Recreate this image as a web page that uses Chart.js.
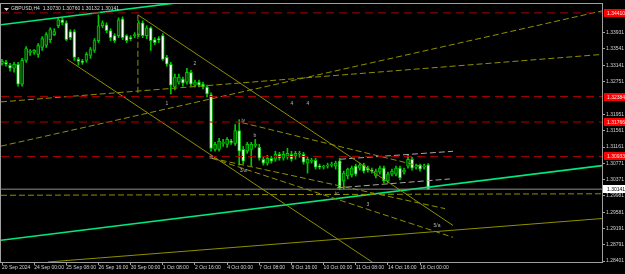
<!DOCTYPE html>
<html>
<head>
<meta charset="utf-8">
<script src="https://cdn.jsdelivr.net/npm/chart.js@4.4.1/dist/chart.umd.min.js"></script>
<style>
  html, body { margin: 0; padding: 0; background: #000; overflow: hidden; }
  canvas { display: block; }
</style>
</head>
<body>
<canvas id="chart" width="625" height="274"></canvas>
<script>
// GBPUSD H4, one bar every 4 hours starting 20 Sep 2024 16:00
var opens = [1.33189,1.33213,1.33141,1.33069,1.33165,1.32686,1.33260,1.33452,1.33452,1.33404,
  1.33572,1.33620,1.33763,1.33883,1.34098,1.34242,1.34170,1.33955,1.33955,1.33284,
  1.33237,1.33260,1.33380,1.33500,1.33739,1.34098,1.34122,1.33979,1.33859,1.33859,
  1.34266,1.33859,1.33811,1.33859,1.33883,1.34170,1.33859,1.34050,1.33763,1.33787,
  1.33859,1.33332,1.33165,1.32614,1.32734,1.32806,1.32734,1.32973,1.32662,1.32734,
  1.32686,1.32614,1.32423,1.31106,1.31106,1.31249,1.31226,1.31297,1.31249,1.31561,
  1.31106,1.31058,1.31106,1.31202,1.31154,1.30866,1.30771,1.30890,1.30866,1.30986,
  1.30890,1.30938,1.30986,1.30938,1.30986,1.30986,1.30771,1.30818,1.30842,1.30699,
  1.30675,1.30699,1.30723,1.30699,1.30818,1.30340,1.30459,1.30483,1.30699,1.30651,
  1.30723,1.30651,1.30603,1.30459,1.30555,1.30651,1.30340,1.30507,1.30507,1.30651,
  1.30555,1.30699,1.30866,1.30675,1.30723,1.30675,1.30730];
var highs = [1.33284,1.33260,1.33189,1.33213,1.33213,1.33308,1.33596,1.33524,1.33524,1.33667,
  1.33835,1.33931,1.34050,1.34027,1.34290,1.34290,1.34218,1.34003,1.34003,1.33332,
  1.33284,1.33452,1.33572,1.33787,1.34362,1.34218,1.34170,1.34027,1.33907,1.34290,
  1.34314,1.33883,1.33859,1.33931,1.34218,1.34218,1.34098,1.34074,1.33811,1.33835,
  1.33907,1.33380,1.33213,1.32925,1.32925,1.32854,1.33069,1.33021,1.32782,1.32782,
  1.32734,1.32662,1.32471,1.31273,1.31369,1.31345,1.31393,1.31345,1.31704,1.31824,
  1.31178,1.31273,1.31273,1.31345,1.31226,1.30914,1.30962,1.30938,1.31058,1.31034,
  1.31058,1.31130,1.31058,1.31058,1.31058,1.31034,1.30914,1.30890,1.30890,1.30747,
  1.30723,1.30771,1.30795,1.30818,1.30890,1.30579,1.30651,1.30699,1.30747,1.30771,
  1.30771,1.30699,1.30651,1.30627,1.30699,1.30699,1.30555,1.30627,1.30699,1.30699,
  1.30651,1.30986,1.30914,1.30747,1.30747,1.30747,1.30760];
var lows = [1.33141,1.33117,1.32997,1.32973,1.32638,1.32638,1.33213,1.33380,1.33404,1.33332,
  1.33500,1.33572,1.33691,1.33859,1.34050,1.34122,1.33739,1.33763,1.33260,1.33141,
  1.33165,1.33213,1.33308,1.33452,1.33691,1.34050,1.33931,1.33739,1.33691,1.33811,
  1.33763,1.33691,1.33739,1.33811,1.33835,1.33811,1.33787,1.33500,1.33643,1.33691,
  1.33260,1.33117,1.32447,1.32542,1.32686,1.32638,1.32686,1.32638,1.32614,1.32614,
  1.32566,1.32375,1.31058,1.31058,1.31058,1.31178,1.31154,1.31226,1.31202,1.30723,
  1.30747,1.31010,1.30699,1.31154,1.30842,1.30723,1.30723,1.30771,1.30818,1.30842,
  1.30842,1.30866,1.30818,1.30866,1.30914,1.30747,1.30531,1.30771,1.30627,1.30627,
  1.30627,1.30651,1.30675,1.30627,1.30124,1.30148,1.30388,1.30435,1.30459,1.30603,
  1.30531,1.30555,1.30531,1.30412,1.30507,1.30292,1.30292,1.30459,1.30459,1.30364,
  1.30507,1.30651,1.30603,1.30627,1.30579,1.30627,1.30132];
var closes = [1.33237,1.33165,1.33069,1.33165,1.32686,1.33260,1.33548,1.33476,1.33500,1.33620,
  1.33787,1.33883,1.34003,1.33955,1.34242,1.34170,1.33763,1.33811,1.33332,1.33237,
  1.33213,1.33404,1.33524,1.33739,1.34098,1.34170,1.33979,1.33811,1.33739,1.34242,
  1.33811,1.33739,1.33787,1.33883,1.34170,1.33859,1.34050,1.33739,1.33691,1.33763,
  1.33284,1.33165,1.32662,1.32854,1.32854,1.32710,1.32973,1.32686,1.32734,1.32662,
  1.32614,1.32447,1.31130,1.31226,1.31297,1.31273,1.31345,1.31273,1.31561,1.31058,
  1.30818,1.31226,1.31226,1.31226,1.30890,1.30771,1.30890,1.30818,1.30986,1.30890,
  1.30986,1.31010,1.30866,1.31010,1.31010,1.30795,1.30866,1.30842,1.30675,1.30675,
  1.30699,1.30723,1.30747,1.30771,1.30172,1.30531,1.30627,1.30651,1.30507,1.30723,
  1.30579,1.30603,1.30579,1.30579,1.30651,1.30340,1.30507,1.30579,1.30651,1.30412,
  1.30603,1.30866,1.30651,1.30699,1.30627,1.30699,1.30141];

var timeBars = [0, 8, 16, 24, 32, 40, 48, 56, 64, 72, 80, 88, 96, 104];
var timeLabels = ["20 Sep 2024", "24 Sep 00:00", "25 Sep 08:00", "26 Sep 16:00", "30 Sep 00:00",
  "1 Oct 08:00", "2 Oct 16:00", "4 Oct 00:00", "7 Oct 08:00", "8 Oct 16:00", "10 Oct 00:00",
  "11 Oct 08:00", "14 Oct 16:00", "16 Oct 00:00"];
var priceTicks = [1.33931, 1.33541, 1.33141, 1.32751, 1.31951, 1.31561, 1.31161, 1.30771,
  1.30371, 1.29981, 1.29581, 1.29191, 1.28791, 1.28401];

// horizontal levels (red) and the bid
var levelPrices = [1.34410, 1.32384, 1.31766, 1.30933];
var bidPrice = 1.30141;

// drawn objects: [bar1, price1, bar2, price2]
var greenLines = [[-0.25, 1.28903, 149.25, 1.30711], [-0.25, 1.34122, 59.2, 1.34843]];
var oliveDashed = [
  [-0.25, 1.31183, 149.25, 1.34457],
  [-0.25, 1.32255, 149.25, 1.33404],
  [-0.25, 1.29993, 149.25, 1.30029],
  [33.8, 1.34362, 33.8, 1.32447],
  [59.7, 1.31752, 104.0, 1.30699],
  [52.2, 1.30890, 110.2, 1.29670],
  [52.2, 1.30890, 112.2, 1.28975]
];
var oliveSolid = [
  [33.8, 1.34362, 112.2, 1.29262],
  [16.2, 1.33284, 92.8, 1.28329],
  [11.4, 1.28377, 149.25, 1.29430]
];
var grayDashed = [[84.1, 1.30866, 112.2, 1.31058], [83.3, 1.30172, 111.4, 1.30388]];

// wave labels
var waveText = ["1", "2", "4", "4", "iv", "b", "iii", "3/a", "b", "ic", "3", "5/a"];
var waveBar = [41.0, 48.0, 72.1, 76.1, 60.0, 62.9, 52.0, 60.0, 84.1, 83.3, 91.0, 108.2];
var wavePrice = [1.32207, 1.33189, 1.32207, 1.32207, 1.31800, 1.31441, 1.30914, 1.30579,
  1.30795, 1.30029, 1.29765, 1.29262];

var X_MIN = -0.25, X_MAX = 149.25;
var FONT = "Liberation Sans";

function seg(p, color, dash, width) {
  return {
    type: "line",
    data: [{ x: p[0], y: p[1] }, { x: p[2], y: p[3] }],
    borderColor: color,
    borderDash: dash,
    borderWidth: width,
    pointRadius: 0,
    fill: false,
    order: 0,
  };
}

var datasets = [];
var idx = opens.map(function (_, i) { return i; });

// wicks
datasets.push({
  type: "bar",
  data: idx.map(function (i) { return { x: i, y: [lows[i], highs[i]] }; }),
  backgroundColor: "#00c800",
  borderWidth: 0,
  barThickness: 1,
  grouped: false,
  order: 5,
});
// bodies
datasets.push({
  type: "bar",
  data: idx.map(function (i) { return { x: i, y: [opens[i], closes[i]] }; }),
  backgroundColor: function (c) {
    var i = c.dataIndex;
    return closes[i] < opens[i] ? "#ffffff" : "#004400";
  },
  borderColor: "#00c800",
  borderWidth: 1,
  borderSkipped: false,
  barThickness: 3,
  grouped: false,
  order: 4,
});

levelPrices.forEach(function (p) {
  datasets.push(seg([X_MIN, p, X_MAX, p], "#a80000", [8, 5], 1));
});
datasets.push(seg([X_MIN, bidPrice, X_MAX, bidPrice], "#8c8c8c", [], 1));
oliveDashed.forEach(function (l) { datasets.push(seg(l, "#8f8f00", [6, 3], 1)); });
oliveSolid.forEach(function (l) { datasets.push(seg(l, "#8f8f00", [], 1)); });
grayDashed.forEach(function (l) { datasets.push(seg(l, "#a8a8a8", [6, 3], 1)); });
greenLines.forEach(function (l) { datasets.push(seg(l, "#00e87a", [], 1.6)); });

var overlay = {
  id: "overlay",
  afterDraw: function (chart) {
    var ctx = chart.ctx;
    var a = chart.chartArea;
    var xs = chart.scales.x, ys = chart.scales.y;
    ctx.save();
    // frame
    ctx.strokeStyle = "#a0a0a0";
    ctx.lineWidth = 1;
    ctx.strokeRect(a.left - 0.5, a.top - 0.5, a.right - a.left + 1, a.bottom - a.top + 1);

    ctx.font = "5px '" + FONT + "'";
    ctx.textBaseline = "middle";

    // wave labels
    ctx.fillStyle = "#b4b4b4";
    ctx.textAlign = "center";
    waveText.forEach(function (t, i) {
      ctx.fillText(t, xs.getPixelForValue(waveBar[i]), ys.getPixelForValue(wavePrice[i]));
    });

    // price boxes on the axis
    ctx.textAlign = "left";
    levelPrices.forEach(function (p) {
      var y = Math.round(ys.getPixelForValue(p));
      ctx.fillStyle = "#ff0000";
      ctx.fillRect(a.right + 2, y - 4, 22, 8);
      ctx.fillStyle = "#ffe8e8";
      ctx.fillText(p.toFixed(5), a.right + 5, y + 0.5);
    });
    var yb = Math.round(ys.getPixelForValue(bidPrice));
    ctx.fillStyle = "#ffffff";
    ctx.fillRect(a.right + 1, yb - 4, 23, 8);
    ctx.fillStyle = "#000000";
    ctx.fillText(bidPrice.toFixed(5), a.right + 5, yb + 0.5);

    // header
    ctx.fillStyle = "#d8d8d8";
    ctx.beginPath();
    ctx.moveTo(a.left + 3, a.top + 4);
    ctx.lineTo(a.left + 8, a.top + 4);
    ctx.lineTo(a.left + 5.5, a.top + 7);
    ctx.closePath();
    ctx.fill();
    var n = closes.length - 1;
    ctx.fillText("GBPUSD,H4  " + opens[n].toFixed(5) + " " + highs[n].toFixed(5) + " " +
      lows[n].toFixed(5) + " " + closes[n].toFixed(5), a.left + 10, a.top + 5);
    ctx.restore();
  },
};

new Chart(document.getElementById("chart").getContext("2d"), {
  type: "bar",
  data: { datasets: datasets },
  plugins: [overlay],
  options: {
    responsive: false,
    animation: false,
    events: [],
    layout: { padding: { left: 1, top: 1, right: 0, bottom: 0 } },
    plugins: { legend: { display: false }, tooltip: { enabled: false } },
    scales: {
      x: {
        type: "linear",
        position: "bottom",
        min: X_MIN,
        max: X_MAX,
        offset: false,
        afterBuildTicks: function (s) {
          s.ticks = timeBars.map(function (v) { return { value: v }; });
        },
        afterFit: function (s) { s.height = 12; },
        grid: { offset: false, drawOnChartArea: false, drawTicks: true, tickLength: 3, color: "#a0a0a0" },
        border: { color: "#a0a0a0" },
        ticks: {
          autoSkip: false,
          maxRotation: 0,
          align: "start",
          padding: 0,
          color: "#d0d0d0",
          font: { family: FONT, size: 5 },
          callback: function (v) {
            var k = timeBars.indexOf(v);
            return k >= 0 ? timeLabels[k] : "";
          },
        },
      },
      y: {
        type: "linear",
        position: "right",
        min: 1.28377,
        max: 1.34625,
        afterBuildTicks: function (s) {
          s.ticks = priceTicks.map(function (v) { return { value: v }; });
        },
        afterFit: function (s) { s.width = 23; },
        grid: { drawOnChartArea: false, drawTicks: true, tickLength: 3, color: "#a0a0a0" },
        border: { color: "#a0a0a0" },
        ticks: {
          padding: 1,
          color: "#d0d0d0",
          font: { family: FONT, size: 5 },
          callback: function (v) { return v.toFixed(5); },
        },
      },
    },
  },
});
</script>
</body>
</html>
